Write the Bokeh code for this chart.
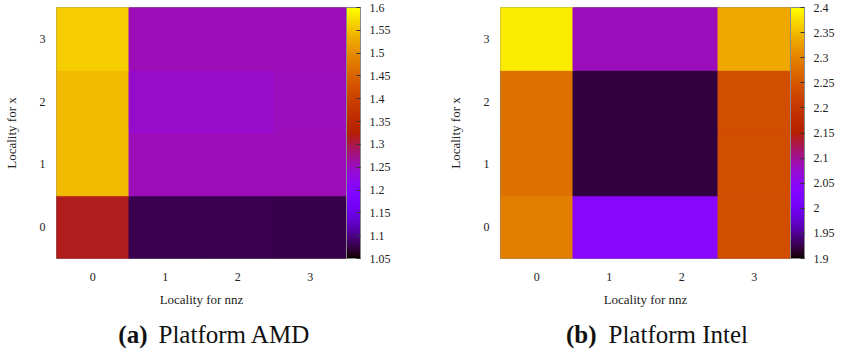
import math
from bokeh.plotting import figure
from bokeh.models import (ColumnDataSource, LinearColorMapper, ColorBar, FixedTicker,
                          CustomJSTickFormatter, Label)
from bokeh.layouts import row, column
from bokeh.embed import file_html
from bokeh.resources import INLINE

# ---------------- data ----------------
nnz_locality = [0, 1, 2, 3]
x_locality = [0, 1, 2, 3]

# AMD speedups, one list per "Locality for x" row (columns = Locality for nnz 0..3)
amd_x0 = [1.315, 1.078, 1.080, 1.076]
amd_x1 = [1.545, 1.255, 1.255, 1.255]
amd_x2 = [1.545, 1.245, 1.245, 1.252]
amd_x3 = [1.560, 1.255, 1.255, 1.255]

# Intel speedups
intel_x0 = [2.295, 2.040, 2.040, 2.235]
intel_x1 = [2.280, 1.920, 1.920, 2.235]
intel_x2 = [2.280, 1.920, 1.920, 2.235]
intel_x3 = [2.385, 2.085, 2.085, 2.335]

amd_range = [1.05, 1.6]
intel_range = [1.9, 2.4]
amd_cb_ticks = [1.05, 1.1, 1.15, 1.2, 1.25, 1.3, 1.35, 1.4, 1.45, 1.5, 1.55, 1.6]
intel_cb_ticks = [1.9, 1.95, 2.0, 2.05, 2.1, 2.15, 2.2, 2.25, 2.3, 2.35, 2.4]

amd_caption = ["(a)", "Platform AMD"]
intel_caption = ["(b)", "Platform Intel"]
xlabel = "Locality for nnz"
ylabel = "Locality for x"

# gnuplot default pm3d palette (rgbformulae 7,5,15)
def gp_palette(n=256):
    out = []
    for i in range(n):
        t = i / (n - 1)
        r = math.sqrt(t)
        g = t ** 3
        b = max(0.0, math.sin(2 * math.pi * t))
        out.append("#%02x%02x%02x" % (round(r * 255), round(g * 255), round(b * 255)))
    return out

PALETTE = gp_palette()
SERIF = "Liberation Serif"
CAP_FONT = "Liberation Serif"


def panel(rows, vrange, cb_ticks, min_left, min_right):
    xs, ys, vs = [], [], []
    for yi, vals in zip(x_locality, rows):
        for xi, v in zip(nnz_locality, vals):
            xs.append(xi)
            ys.append(yi)
            vs.append(v)
    src = ColumnDataSource(dict(x=xs, y=ys, v=vs))
    mapper = LinearColorMapper(palette=PALETTE, low=vrange[0], high=vrange[1])

    p = figure(frame_width=290, frame_height=251, x_range=(-0.5, 3.5), y_range=(-0.5, 3.5),
               output_backend="svg", toolbar_location=None,
               min_border_left=min_left, min_border_right=min_right,
               min_border_top=7, min_border_bottom=61)
    p.rect(x="x", y="y", width=1, height=1, source=src,
           fill_color={"field": "v", "transform": mapper},
           line_color={"field": "v", "transform": mapper}, line_width=1)

    p.grid.visible = False
    p.outline_line_color = "#8a8a8a"
    p.outline_line_width = 1
    p.background_fill_color = "white"
    p.border_fill_color = "white"

    for ax in (p.xaxis[0], p.yaxis[0]):
        ax.ticker = FixedTicker(ticks=nnz_locality)
        ax.axis_line_color = None
        ax.major_tick_line_color = None
        ax.minor_tick_line_color = None
        ax.major_label_text_font = SERIF
        ax.major_label_text_font_size = "12px"
        ax.major_label_text_color = "#222222"
        ax.axis_label_text_font = SERIF
        ax.axis_label_text_font_size = "13px"
        ax.axis_label_text_font_style = "normal"
        ax.axis_label_text_color = "#222222"
    p.xaxis.axis_label = xlabel
    p.yaxis.axis_label = ylabel
    p.xaxis.major_label_standoff = 8
    p.xaxis.axis_label_standoff = 8
    p.yaxis.major_label_standoff = 5
    p.yaxis.axis_label_standoff = 18
    p.yaxis.major_label_orientation = "horizontal"

    cb = ColorBar(color_mapper=mapper, ticker=FixedTicker(ticks=cb_ticks),
                  formatter=CustomJSTickFormatter(code="return String(parseFloat(tick.toFixed(2)));"),
                  width=14, padding=0, margin=7, label_standoff=9,
                  major_label_text_font=SERIF, major_label_text_font_size="12px",
                  major_label_text_color="#222222",
                  major_tick_in=4, major_tick_out=0, major_tick_line_color="#333333",
                  minor_tick_line_color=None,
                  bar_line_color="#8a8a8a", bar_line_width=1,
                  border_line_color=None, background_fill_alpha=0)
    p.add_layout(cb, "right")
    return p


p1 = panel([amd_x0, amd_x1, amd_x2, amd_x3], amd_range, amd_cb_ticks, 48, 72)
p2 = panel([intel_x0, intel_x1, intel_x2, intel_x3], intel_range, intel_cb_ticks, 82, 53)

# caption strip (pixel-like data coordinates)
cap = figure(width=835, height=30, x_range=(0, 835), y_range=(0, 30),
             output_backend="svg", toolbar_location=None,
             min_border=0, min_border_left=0, min_border_right=0,
             min_border_top=0, min_border_bottom=0)
cap.axis.visible = False
cap.grid.visible = False
cap.outline_line_color = None
cap.border_fill_color = "white"
cap.background_fill_color = "white"
cap_positions = [(147, 158, amd_caption), (596, 608, intel_caption)]
for xr, xl, txt in cap_positions:
    cap.add_layout(Label(x=xr, y=15, text=txt[0], text_align="right", text_baseline="middle",
                         text_font=CAP_FONT, text_font_size="25px", text_font_style="bold",
                         text_color="#111111"))
    cap.add_layout(Label(x=xl, y=15, text=txt[1], text_align="left", text_baseline="middle",
                         text_font=CAP_FONT, text_font_size="25px", text_color="#111111"))

layout = column(row(p1, p2), cap)
open("out.html", "w").write(file_html(layout, INLINE))
